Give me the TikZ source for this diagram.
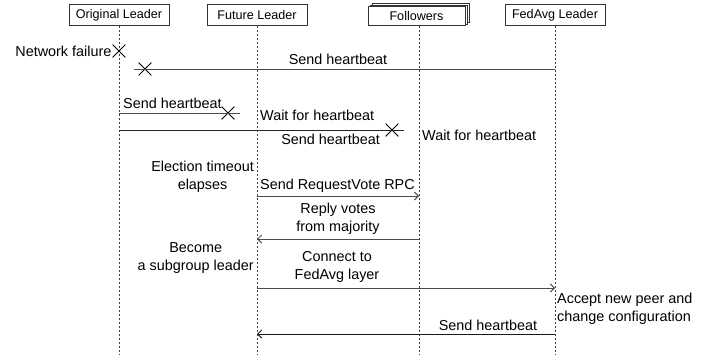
\documentclass[tikz,border=0pt]{standalone}
\usepackage{fontspec}
\setmainfont{Liberation Sans}
\usetikzlibrary{arrows.meta,shapes.misc,shadows}
\begin{document}
\begin{tikzpicture}[x=1pt,y=-1pt,
  actor/.style={draw=black!80,fill=white,line width=0.8pt,minimum width=100pt,minimum height=21pt,
    inner sep=0pt,font=\fontsize{12.6}{14}\selectfont},
  life/.style={draw=black!75,line width=0.8pt,dash pattern=on 2pt off 2pt},
  msg/.style={draw=black!70,line width=1pt},
  arr/.style={msg,-{Straight Barb[length=4pt,width=8pt]}},
  lost/.style={draw=black,cross out,line width=0.8pt,minimum size=12pt,inner sep=0pt},
  lbl/.style={font=\fontsize{14.4}{18}\selectfont,inner sep=1pt,align=center}]
\useasboundingbox (0,0) rectangle (714,354);

% participants
\node[actor] (ol) at (119,15) {Original Leader};
\node[actor] (fl) at (257,15) {Future Leader};
\node[actor,minimum width=97pt,minimum height=19pt,
  double copy shadow={shadow xshift=2pt,shadow yshift=1.6pt,draw=black!80,fill=white}] (fo) at (416.5,16) {Followers};
\node[actor] (fa) at (555,15) {FedAvg Leader};

% lifelines
\coordinate (olend) at (119,354);
\coordinate (flend) at (257,354);
\coordinate (foend) at (419,354);
\coordinate (faend) at (555,354);
\draw[life] (ol.south) -- (olend);
\draw[life] (fl.south) -- (flend);
\draw[life] (fo.south -| foend) -- (foend);
\draw[life] (fa.south) -- (faend);

% network failure of the original leader
\node[lost] (x1) at (119,51) {};
\node[lbl,anchor=east] at (x1.west) {Network failure};

% heartbeat from the FedAvg leader is lost
\coordinate (h1s) at (555,69);
\coordinate (h1e) at (134,69);
\node[lost] (x2) at (145,69) {};
\draw[msg] (h1s) -- (h1e);
\node[lbl] at (338,59) {Send heartbeat};

% heartbeat from the original leader to the future leader is lost
\coordinate (h2s) at (119,113);
\coordinate (h2e) at (240,113);
\node[lost] (x3) at (228,113) {};
\draw[msg] (h2s) -- (h2e);
\node[lbl,anchor=west] at (122,103) {Send heartbeat};
\node[lbl,anchor=west] at (259,115) {Wait for heartbeat};

% heartbeat from the original leader to the followers is lost
\coordinate (h3s) at (119,130);
\coordinate (h3e) at (404,130);
\node[lost] (x4) at (392,130) {};
\draw[msg,draw=black!85] (h3s) -- (h3e);
\node[lbl,anchor=east] at (381,139) {Send heartbeat};
\node[lbl,anchor=west] at (421,135) {Wait for heartbeat};

% election
\node[lbl,anchor=east] at (255,177) {Election timeout\\elapses};
\coordinate (rvs) at (257,196);
\coordinate (rve) at (419,196);
\draw[arr] (rvs) -- (rve);
\node[lbl,anchor=west] at (259,186) {Send RequestVote RPC};

\coordinate (vs) at (419,239);
\coordinate (ve) at (257,239);
\draw[arr] (vs) -- (ve);
\node[lbl] at (338,219) {Reply votes\\from majority};

\node[lbl,anchor=east] at (255,258.5) {Become\\a subgroup leader};

% joining the FedAvg layer
\coordinate (cs) at (257,288);
\coordinate (ce) at (555,288);
\draw[arr] (cs) -- (ce);
\node[lbl] at (337,266.5) {Connect to\\FedAvg layer};

\node[lbl,anchor=west,align=left] at (556,308.5) {Accept new peer and\\change configuration};

\coordinate (h4s) at (555,334);
\coordinate (h4e) at (257,334);
\draw[arr,draw=black!90] (h4s) -- (h4e);
\node[lbl] at (488,325) {Send heartbeat};
\end{tikzpicture}
\end{document}
